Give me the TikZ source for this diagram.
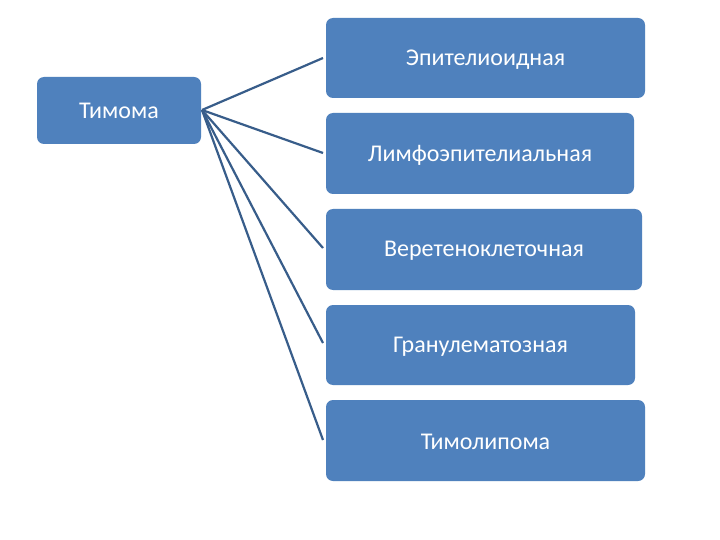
\documentclass[tikz,border=0pt]{standalone}
\usepackage{fontspec}
\setmainfont{Carlito}
\definecolor{boxblue}{HTML}{4F81BD}
\definecolor{linkblue}{HTML}{385D8A}
\begin{document}
\begin{tikzpicture}[x=1pt,y=-1pt,
  box/.style={fill=boxblue,draw=none,rounded corners=7pt},
  lbl/.style={text=white,font=\fontsize{24}{28}\selectfont},
  link/.style={draw=linkblue,line width=2.2pt}]
\useasboundingbox (0,0) rectangle (720,540);
\fill[white] (0,0) rectangle (720,540);
\fill[box] (37,77) rectangle (201,144);
\node[lbl] (root) at (119,111) {Тимома};
\coordinate (o) at (202,110);
\fill[box] (326,18) rectangle (645,98);
\node[lbl] (a) at (485.5,59.5) {Эпителиоидная};
\fill[box] (326,113) rectangle (634,194);
\node[lbl] (b) at (480,155) {Лимфоэпителиальная};
\fill[box] (326,209) rectangle (642,290);
\node[lbl] (c) at (484,251) {Веретеноклеточная};
\fill[box] (326,305) rectangle (635,385);
\node[lbl] (d) at (480.5,346.5) {Гранулематозная};
\fill[box] (326,400) rectangle (645,481);
\node[lbl] (e) at (485.5,442) {Тимолипома};
\coordinate (ea) at (323,58);
\coordinate (eb) at (323,153);
\coordinate (ec) at (323,248);
\coordinate (ed) at (323,343);
\coordinate (ee) at (323,440);
\foreach \t in {ea,eb,ec,ed,ee} \draw[link] (o) -- (\t);
\end{tikzpicture}
\end{document}
